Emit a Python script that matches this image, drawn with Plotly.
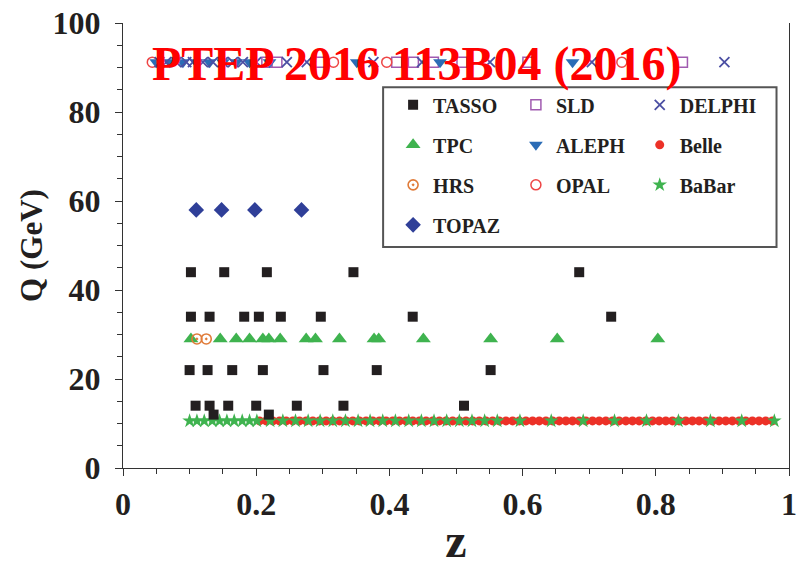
import plotly.graph_objects as go

# ---------------- data ----------------
tasso_z = [0.102, 0.152, 0.216, 0.346, 0.685,
           0.102, 0.130, 0.182, 0.204, 0.237, 0.297, 0.435, 0.733,
           0.100, 0.127, 0.164, 0.210, 0.301, 0.381, 0.552,
           0.109, 0.130, 0.158, 0.200, 0.261, 0.331, 0.512,
           0.136, 0.219]
tasso_q = [44, 44, 44, 44, 44,
           34, 34, 34, 34, 34, 34, 34, 34,
           22, 22, 22, 22, 22, 22, 22,
           14, 14, 14, 14, 14, 14, 14,
           12, 12]

sld_z = [0.216, 0.231, 0.296, 0.411, 0.436, 0.466, 0.509, 0.608, 0.840]
sld_q = [91.2] * len(sld_z)

delphi_z = [0.055, 0.065, 0.080, 0.095, 0.105, 0.120, 0.135, 0.150, 0.165,
            0.180, 0.200, 0.246, 0.276, 0.376, 0.449, 0.551, 0.704, 0.903]
delphi_q = [91.2] * len(delphi_z)

tpc_z = [0.102, 0.146, 0.170, 0.190, 0.210, 0.219, 0.236, 0.275, 0.289,
         0.325, 0.377, 0.384, 0.451, 0.552, 0.652, 0.803]
tpc_q = [29] * len(tpc_z)

aleph_z = [0.050, 0.070, 0.090, 0.110, 0.130, 0.150, 0.170, 0.190, 0.220,
           0.351, 0.476, 0.675]
aleph_q = [91.2] * len(aleph_z)

belle_z = [0.205, 0.215, 0.225, 0.235, 0.245, 0.255, 0.265, 0.275, 0.285, 0.295,
           0.305, 0.315, 0.325, 0.335, 0.345, 0.355, 0.365, 0.375, 0.385, 0.395,
           0.405, 0.415, 0.425, 0.435, 0.445, 0.455, 0.465, 0.475, 0.485, 0.495,
           0.505, 0.515, 0.525, 0.535, 0.545, 0.555, 0.565, 0.575, 0.585, 0.595,
           0.605, 0.615, 0.625, 0.635, 0.645, 0.655, 0.665, 0.675, 0.685, 0.695,
           0.705, 0.715, 0.725, 0.735, 0.745, 0.755, 0.765, 0.775, 0.785, 0.795,
           0.805, 0.815, 0.825, 0.835, 0.845, 0.855, 0.865, 0.875, 0.885, 0.895,
           0.905, 0.915, 0.925, 0.935, 0.945, 0.955, 0.965, 0.975]
belle_q = [10.58] * len(belle_z)

hrs_z = [0.111, 0.125]
hrs_q = [29, 29]

opal_z = [0.044, 0.316, 0.396, 0.749]
opal_q = [91.2] * len(opal_z)

babar_z = [0.100, 0.111, 0.122, 0.134, 0.145, 0.156, 0.167, 0.179, 0.190, 0.201,
           0.221, 0.240, 0.259, 0.278, 0.296, 0.315, 0.334, 0.353, 0.371, 0.390,
           0.409, 0.429, 0.448, 0.467, 0.486, 0.505, 0.524, 0.543, 0.562,
           0.596, 0.643, 0.691, 0.738, 0.786, 0.834, 0.882, 0.929, 0.978]
babar_q = [10.58] * len(babar_z)

topaz_z = [0.110, 0.148, 0.198, 0.268]
topaz_q = [58] * len(topaz_z)

x_ticks = [0, 0.2, 0.4, 0.6, 0.8, 1]
x_tick_labels = ["0", "0.2", "0.4", "0.6", "0.8", "1"]
y_ticks = [0, 20, 40, 60, 80, 100]
y_tick_labels = ["0", "20", "40", "60", "80", "100"]

SERIF = "Liberation Serif"
TXT = "#231f20"

fig = go.Figure()

def add(name, z, q, symbol, color, size, legend, rank, lw=0):
    fig.add_trace(go.Scatter(
        x=z, y=q, mode="markers", name=name, legend=legend,
        legendgroup=name, legendrank=rank,
        marker=dict(symbol=symbol, color=color, size=size,
                    line=dict(width=lw, color=color)),
    ))

# Draw order: bottom layers first
add("Belle", belle_z, belle_q, "circle", "#ec3127", 9, "legend3", 2)
add("BaBar", babar_z, babar_q, "star", "#3fb34f", 11, "legend3", 3)
add("TASSO", tasso_z, tasso_q, "square", TXT, 10, "legend", 1)
add("TPC", tpc_z, tpc_q, "triangle-up", "#3fb34f", 13, "legend", 2)
add("HRS", hrs_z, hrs_q, "circle-open-dot", "#e07b39", 10, "legend", 3, 1.6)
add("TOPAZ", topaz_z, topaz_q, "diamond", "#2f3f98", 12, "legend", 4)
add("SLD", sld_z, sld_q, "square-open", "#a05bb0", 10, "legend2", 1, 1.5)
add("ALEPH", aleph_z, aleph_q, "triangle-down", "#2b6cb6", 12, "legend2", 2)
add("OPAL", opal_z, opal_q, "circle-open", "#ee4545", 10, "legend2", 3, 1.5)
add("DELPHI", delphi_z, delphi_q, "x-thin", "#4b4fa3", 10, "legend3", 1, 1.8)

legend_font = dict(family=SERIF, size=20, color=TXT, weight="bold")
common = dict(bgcolor="rgba(0,0,0,0)", borderwidth=0, font=legend_font,
              xref="paper", yref="paper", xanchor="left", yanchor="top",
              tracegroupgap=11, itemwidth=30, traceorder="grouped")

L, R, T, B = 122.5, 9.5, 22.5, 98.5
W, H = 799, 567
PW = W - L - R
PH = H - T - B

def px_x(px):
    return (px - L) / PW

def px_y(py):
    return (H - B - py) / PH

fig.update_layout(
    width=W, height=H,
    margin=dict(l=L, r=R, t=T, b=B, pad=0, autoexpand=False),
    paper_bgcolor="white", plot_bgcolor="white",
    showlegend=True,
    legend=dict(x=px_x(393), y=px_y(85), **common),
    legend2=dict(x=px_x(516), y=px_y(85), **common),
    legend3=dict(x=px_x(640), y=px_y(85), **common),
    xaxis=dict(range=[0, 1], tickvals=x_ticks, ticktext=x_tick_labels,
               automargin=False,
               ticks="outside", ticklen=7, tickwidth=1.2, tickcolor="#333",
               minor=dict(dtick=0.05, ticks="outside", ticklen=5,
                          tickwidth=1, tickcolor="#333"),
               showline=True, linecolor="#333", linewidth=1.3, mirror=False,
               showgrid=False, zeroline=False,
               tickfont=dict(family=SERIF, size=32, color=TXT, weight="bold"),
               title=dict(text="z", standoff=10,
                          font=dict(family=SERIF, size=48, color=TXT,
                                    weight="bold"))),
    yaxis=dict(range=[0, 100], tickvals=y_ticks, ticktext=y_tick_labels,
               automargin=False, ticklabelstandoff=8,
               ticks="outside", ticklen=7, tickwidth=1.2, tickcolor="#333",
               minor=dict(dtick=5, ticks="outside", ticklen=5,
                          tickwidth=1, tickcolor="#333"),
               showline=True, linecolor="#333", linewidth=1.3, mirror=True,
               showgrid=False, zeroline=False,
               tickfont=dict(family=SERIF, size=32, color=TXT, weight="bold"),
               title=dict(text="Q (GeV)", standoff=0,
                          font=dict(family=SERIF, size=31, color=TXT,
                                    weight="bold"))),
)

# legend frame
fig.add_shape(type="rect", xref="paper", yref="paper",
              x0=px_x(383), x1=px_x(777), y0=px_y(247), y1=px_y(87),
              line=dict(color="#555", width=2), fillcolor="rgba(0,0,0,0)",
              layer="above")

# watermark
fig.add_annotation(text="PTEP 2016 113B04 (2016)", xref="paper", yref="paper",
                   x=px_x(416.5), y=px_y(64), xanchor="center", yanchor="middle",
                   showarrow=False,
                   font=dict(family=SERIF, size=48, color="#ff0000",
                             weight="bold"))

fig.write_html("out.html")
